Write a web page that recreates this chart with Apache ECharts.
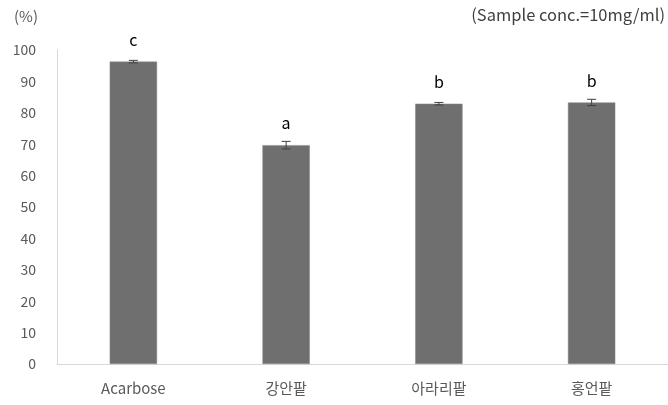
<!DOCTYPE html>
<html>
<head>
<meta charset="utf-8">
<script src="https://cdn.jsdelivr.net/npm/echarts@6/dist/echarts.min.js"></script>
<style>
  html, body { margin: 0; padding: 0; background: #fff; }
  #chart { width: 668px; height: 405px; }
</style>
</head>
<body>
<div id="chart"></div>
<script>
const categories = ["Acarbose", "강안팥", "아라리팥", "홍언팥"];
const values = [96.3, 69.7, 82.9, 83.3];
const errors = [0.4, 1.2, 0.4, 1.0];
const letters = ["c", "a", "b", "b"];
const yTicks = [0, 10, 20, 30, 40, 50, 60, 70, 80, 90, 100];

const FONT = "'Noto Sans CJK KR', 'Noto Sans', sans-serif";
const chart = echarts.init(document.getElementById("chart"));

const option = {
  backgroundColor: "#fff",
  animation: false,
  textStyle: { fontFamily: FONT },
  grid: { left: 57, right: -11, top: 50, bottom: 41 },
  graphic: [
    {
      type: "text", left: 14, top: 9,
      style: { text: "(%)", fill: "#595959", font: "15px " + FONT },
    },
    {
      type: "text", right: 3, top: 6,
      style: { text: "(Sample conc.=10mg/ml)", fill: "#404040", font: "16.5px " + FONT },
    },
  ],
  xAxis: {
    type: "category",
    data: categories,
    axisLine: { lineStyle: { color: "#d9d9d9", width: 1 } },
    axisTick: { show: false },
    axisLabel: { color: "#595959", fontSize: 15, margin: 17 },
  },
  yAxis: {
    type: "value",
    min: yTicks[0],
    max: yTicks[yTicks.length - 1],
    interval: 10,
    axisLine: { show: true, lineStyle: { color: "#d9d9d9", width: 1 } },
    axisTick: { show: false },
    splitLine: { show: false },
    axisLabel: { color: "#595959", fontSize: 14, margin: 21 },
  },
  series: [
    {
      type: "bar",
      data: values.map((v, i) => ({
        value: v,
        label: { show: true, formatter: letters[i] },
      })),
      barWidth: "31%",
      itemStyle: { color: "#6f6f6f", borderColor: "#8a8a8a", borderWidth: 0.5 },
      label: {
        show: true,
        position: "top",
        distance: 14,
        color: "#000",
        fontSize: 16,
      },
    },
    {
      type: "custom",
      data: values.map((v, i) => [i, v - errors[i], v + errors[i]]),
      renderItem: (params, api) => {
        const lo = api.coord([api.value(0), api.value(1)]);
        const hi = api.coord([api.value(0), api.value(2)]);
        const hw = 4.5;
        const style = { stroke: "#404040", lineWidth: 1 };
        return {
          type: "group",
          children: [
            { type: "line", shape: { x1: hi[0], y1: hi[1], x2: lo[0], y2: lo[1] }, style },
            { type: "line", shape: { x1: hi[0] - hw, y1: hi[1], x2: hi[0] + hw, y2: hi[1] }, style },
            { type: "line", shape: { x1: lo[0] - hw, y1: lo[1], x2: lo[0] + hw, y2: lo[1] }, style },
          ],
        };
      },
      z: 10,
    },
  ],
};

chart.setOption(option);
</script>
</body>
</html>
